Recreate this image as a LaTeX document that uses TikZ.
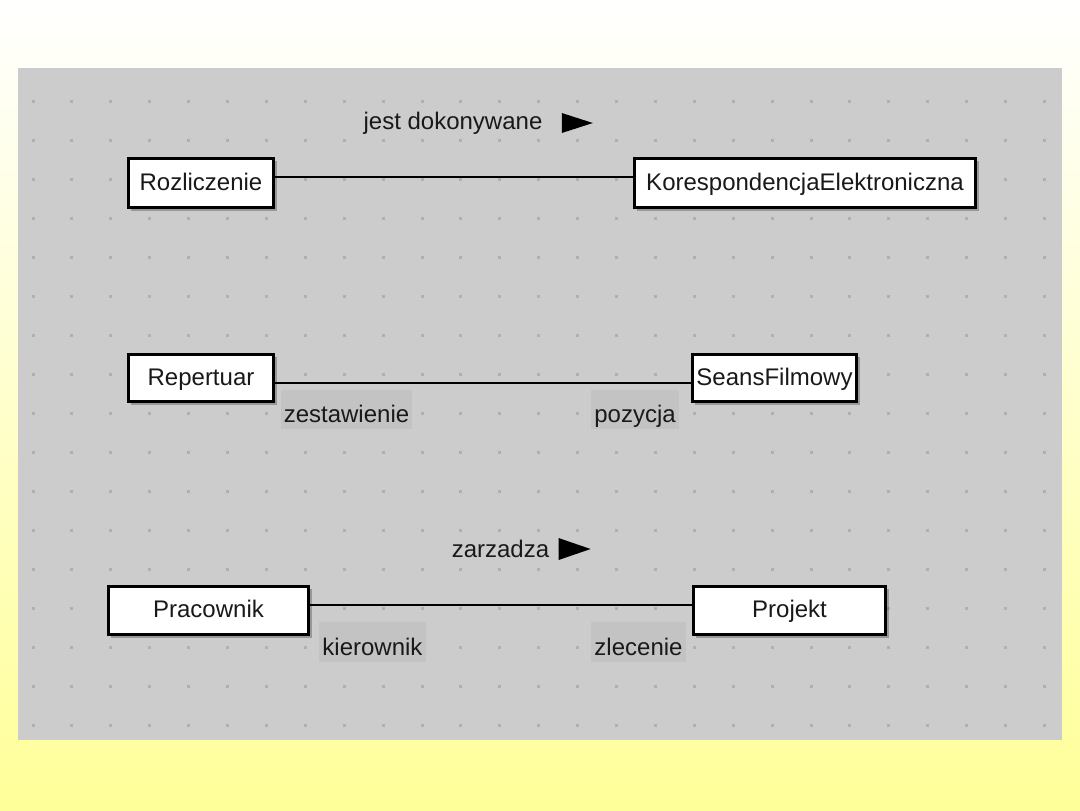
\documentclass[tikz,border=0pt]{standalone}
\usepackage{fontspec}
\setmainfont{Liberation Sans}
\usetikzlibrary{shadows}
\definecolor{panelgray}{RGB}{204,204,204}
\definecolor{dotgray}{RGB}{176,176,176}
\definecolor{rolegray}{RGB}{195,195,195}
\definecolor{bgyellow}{RGB}{255,255,153}
\definecolor{txtdark}{RGB}{25,25,25}

\begin{document}
\begin{tikzpicture}[x=0.5pt,y=-0.5pt,
  entity/.style={rectangle,draw=black,line width=1.3pt,fill=white,inner sep=0pt,text height=9pt,text depth=2pt,font=\fontsize{12}{14}\selectfont,text=txtdark,
    drop shadow={shadow xshift=1.5pt,shadow yshift=-1.5pt,fill=black,opacity=0.25}},
  role/.style={rectangle,fill=rolegray,inner xsep=1.5pt,inner ysep=0pt,text height=16.5pt,text depth=3.25pt,font=\fontsize{12}{14}\selectfont,text=txtdark},
  aname/.style={inner sep=0pt,font=\fontsize{12}{14}\selectfont,text=txtdark},
  assoc/.style={line width=1.15pt,black},
  dirmark/.style={fill=black}]
\useasboundingbox (0,0) rectangle (1080,810);
\shade[top color=white,bottom color=bgyellow] (0,0) rectangle (1080,810);
\fill[panelgray] (18,68) rectangle (1062,740);
\foreach \i in {0,...,26}
  \foreach \j in {0,...,16}
    \fill[dotgray] (31.5+38.9*\i,99.5+39*\j) rectangle ++(3,3);
\node[entity,minimum width=72.7pt,minimum height=24.7pt] (roz) at (201,183) {Rozliczenie};
\node[entity,minimum width=170.7pt,minimum height=24.7pt] (kor) at (805,183) {KorespondencjaElektroniczna};
\node[entity,minimum width=72.7pt,minimum height=23.7pt] (rep) at (201,378) {Repertuar};
\node[entity,minimum width=82.2pt,minimum height=23.7pt] (sea) at (774.5,378) {SeansFilmowy};
\node[entity,minimum width=100.2pt,minimum height=24.2pt] (pra) at (208.5,610.5) {Pracownik};
\node[entity,minimum width=96.2pt,minimum height=24.2pt] (pro) at (789.5,610.5) {Projekt};
\draw[assoc] (roz.east |- 0,177) -- (kor.west |- 0,177);
\draw[assoc] (rep.east |- 0,383) -- (sea.west |- 0,383);
\draw[assoc] (pra.east |- 0,605) -- (pro.west |- 0,605);
\node[aname] (jd) at (453,123) {jest dokonywane};
\fill[dirmark] ([xshift=9.5pt,yshift=5pt]jd.east) -- ++(15.5pt,-5pt) -- ++(-15.5pt,-5pt) -- cycle;
\node[aname] (zz) at (500.5,549) {zarzadza};
\fill[dirmark] ([xshift=4.5pt,yshift=5.5pt]zz.east) -- ++(16pt,-5.5pt) -- ++(-16pt,-5.5pt) -- cycle;
\node[role] (zes) at (346.5,409.5) {zestawienie};
\node[role] (poz) at (635,409.5) {pozycja};
\node[role] (kie) at (372.5,642) {kierownik};
\node[role] (zle) at (638.5,642) {zlecenie};
\end{tikzpicture}
\end{document}
